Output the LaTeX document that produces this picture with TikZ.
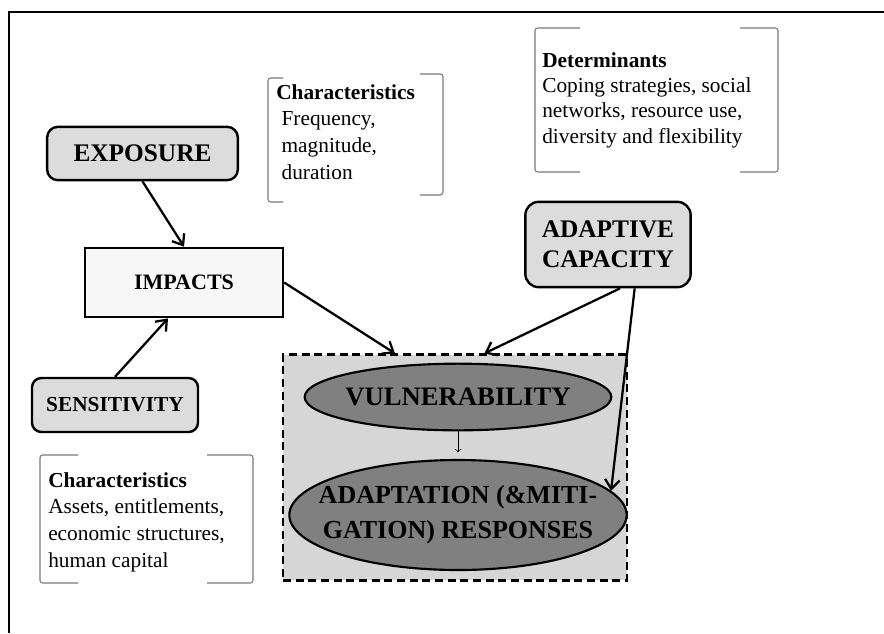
\documentclass[tikz,border=0pt]{standalone}
\usepackage{fontspec}
\setmainfont{Liberation Serif}
\usepackage{xcolor}
\usetikzlibrary{positioning, arrows.meta, shapes.geometric}

\definecolor{boxgray}{HTML}{DCDCDC}
\definecolor{paleface}{HTML}{F7F7F7}
\definecolor{zonegray}{HTML}{D6D6D6}
\definecolor{ovalgray}{HTML}{808080}
\definecolor{bracketgray}{HTML}{7A7A7A}

\begin{document}
\begin{tikzpicture}[
    x=0.75pt, y=-0.75pt,
    every node/.style={font=\fontsize{16}{20}\selectfont},
    factor/.style={rectangle, rounded corners=8pt, draw, line width=1.8pt, fill=boxgray, align=center},
    outcome/.style={ellipse, draw, line width=1.6pt, fill=ovalgray, inner sep=0pt},
    note/.style={anchor=north west, inner sep=0pt, align=left},
    bracket/.style={draw=bracketgray, line width=0.8pt, rounded corners=2pt},
    arrow/.style={-{Straight Barb[length=7pt, width=11pt]}, line width=1.7pt}
]
    \useasboundingbox (0,0) rectangle (884,633);

    % Frame
    \draw[line width=2pt] (884,12) -- (9,12) -- (9,633);

    % Exposure and sensitivity
    \node[factor, minimum width=143pt, minimum height=40pt,
          font=\fontsize{19}{22}\selectfont\bfseries] (exposure) at (142.5,153.5) {EXPOSURE};
    \node[factor, rounded corners=7pt, minimum width=124.5pt, minimum height=40.5pt,
          font=\fontsize{16}{19}\selectfont\bfseries] (sensitivity) at (115,405) {SENSITIVITY};

    % Impacts
    \node[rectangle, draw, line width=1.8pt, fill=paleface, minimum width=148.5pt, minimum height=52pt,
          font=\fontsize{16.5}{19}\selectfont\bfseries] (impacts) at (184,282.5) {IMPACTS};

    % Adaptive capacity
    \node[factor, rounded corners=10pt, minimum width=124pt, minimum height=64pt,
          font=\fontsize{19}{22.5}\selectfont\bfseries] (adaptive) at (608,244.5) {ADAPTIVE\\CAPACITY};

    % Vulnerability zone
    \node[rectangle, draw, dash pattern=on 6pt off 3.5pt, line width=2.1pt, fill=zonegray,
          minimum width=258pt, minimum height=169pt] (zone) at (455,467.5) {};
    \node[outcome, minimum width=230pt, minimum height=50pt] (vuln) at (458,397) {};
    \node[font=\fontsize{20}{24}\selectfont\bfseries] (vulntext) at (vuln) {VULNERABILITY};
    \node[outcome, minimum width=253pt, minimum height=82.5pt] (adapt) at (458,515) {};
    \node[font=\fontsize{19.5}{26}\selectfont\bfseries, align=center] (adapttext) at (adapt)
        {ADAPTATION (\&MITI-\\GATION) RESPONSES};

    % Notes
    \draw[bracket] (283,78) -- (268,78) -- (268,202) -- (283,202);
    \draw[bracket] (420,74) -- (443,74) -- (443,195) -- (420,195);
    \node[note] (expnote) at (276,84)
        {\textbf{Characteristics}\\\hspace{4pt}Frequency,\\\hspace{4pt}magnitude,\\\hspace{4pt}duration};

    \draw[bracket] (580,28) -- (535,28) -- (535,172) -- (580,172);
    \draw[bracket] (740,28) -- (778,28) -- (778,172) -- (740,172);
    \node[note, font=\fontsize{16}{19}\selectfont] (detnote) at (542,52)
        {\textbf{Determinants}\\Coping strategies, social\\networks, resource use,\\diversity and flexibility};

    \draw[bracket] (78,455) -- (40,455) -- (40,583) -- (78,583);
    \draw[bracket] (207,455) -- (253,455) -- (253,583) -- (207,583);
    \node[note] (sensnote) at (48,472)
        {\textbf{Characteristics}\\Assets, entitlements,\\economic structures,\\human capital};

    % Connections
    \draw[arrow] (exposure.south) -- (impacts.north);
    \draw[arrow] (sensitivity.north) -- ([xshift=-12pt]impacts.south);
    \draw[arrow] (impacts.east) -- ([xshift=-45pt]zone.north);
    \draw[arrow] ([xshift=9pt]adaptive.south) -- ([xshift=22pt]zone.north);
    \draw[arrow] ([xshift=20pt]adaptive.south) -- (adapt.9);
    \draw[->, thin, shorten >=5pt] (vuln.south) -- (adapt.north);
\end{tikzpicture}
\end{document}
